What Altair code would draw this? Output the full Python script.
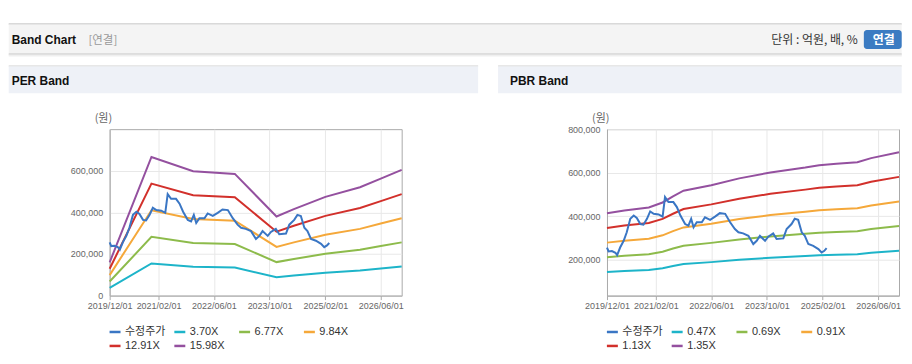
import altair as alt
import pandas as pd

# ---------------- data ----------------
series_price = "수정주가"

price_dates = [
    "2019-12-01", "2019-12-15", "2020-01-13", "2020-02-13", "2020-02-28", "2020-03-25",
    "2020-04-25", "2020-05-22", "2020-06-22", "2020-07-22", "2020-08-18", "2020-09-18",
    "2020-10-15", "2020-11-15", "2020-12-13", "2021-01-13", "2021-02-25", "2021-04-01",
    "2021-04-22", "2021-05-22", "2021-07-04", "2021-08-04", "2021-09-04", "2021-10-15",
    "2021-11-13", "2021-12-07", "2021-12-28", "2022-01-25", "2022-03-10", "2022-04-07",
    "2022-05-22", "2022-07-04", "2022-08-15", "2022-10-01", "2022-11-13", "2022-12-25",
    "2023-01-25", "2023-03-07", "2023-04-22", "2023-06-04", "2023-07-04", "2023-08-01",
    "2023-09-15", "2023-10-13", "2023-11-25", "2023-12-25", "2024-02-22", "2024-03-22",
    "2024-05-04", "2024-06-01", "2024-07-01", "2024-08-01", "2024-08-28", "2024-09-28",
    "2024-11-10", "2024-12-25", "2025-01-22", "2025-02-15", "2025-03-07",
]
price_values = [
    256000, 238000, 240000, 232000, 221000, 256000,
    287000, 326000, 388000, 403000, 392000, 364000,
    361000, 388000, 422000, 411000, 408000, 398000,
    488000, 465000, 465000, 442000, 403000, 364000,
    357000, 388000, 349000, 372000, 372000, 395000,
    383000, 398000, 414000, 411000, 372000, 341000,
    326000, 321000, 310000, 272000, 287000, 310000,
    287000, 306000, 321000, 295000, 298000, 341000,
    364000, 388000, 383000, 326000, 310000, 272000,
    264000, 249000, 233000, 241000, 253000,
]

per_names = ["3.70X", "6.77X", "9.84X", "12.91X", "15.98X"]
per_dates = ["2019-12-01", "2020-12-01", "2021-12-01", "2022-12-01", "2023-12-01",
             "2024-05-01", "2025-02-01", "2025-12-01", "2026-06-01", "2026-12-01"]
per_370 = [37000, 154300, 138400, 135400, 88100, 96200, 109900, 120600, 130200, 139900]
per_677 = [67700, 282300, 253200, 247800, 161100, 176000, 201100, 220700, 238300, 255900]
per_984 = [98400, 410300, 368000, 360100, 234200, 255800, 292200, 320800, 346400, 372000]
per_1291 = [129100, 538300, 482800, 472500, 307300, 335700, 383400, 420900, 454400, 488000]
per_1598 = [159800, 666400, 597700, 584900, 380300, 415500, 474600, 521000, 562500, 604000]

pbr_names = ["0.47X", "0.69X", "0.91X", "1.13X", "1.35X"]
pbr_dates = ["2019-12-01", "2020-05-01", "2020-12-01", "2021-04-01", "2021-07-01",
             "2021-10-01", "2022-06-01", "2023-02-01", "2023-11-01", "2024-09-01",
             "2025-01-01", "2025-06-01", "2025-12-01", "2026-04-01", "2026-12-01"]
pbr_047 = [143800, 148500, 153200, 161200, 171100, 180000, 188900, 199800, 209200, 217100,
           220900, 223300, 225600, 232200, 241600]
pbr_069 = [211100, 218000, 224900, 236700, 251200, 264300, 277400, 293300, 307100, 318800,
           324300, 327800, 331200, 340900, 354700]
pbr_091 = [278500, 287600, 296700, 312100, 331200, 348500, 365800, 386800, 405000, 420400,
           427700, 432300, 436800, 449500, 467700]
pbr_113 = [345800, 357100, 368400, 387600, 411300, 432800, 454300, 480300, 502900, 522100,
           531100, 536800, 542400, 558200, 580800]
pbr_135 = [413100, 426600, 440100, 463100, 491400, 517100, 542700, 573800, 600800, 623700,
           634500, 641300, 648000, 666900, 693900]

per_ticks = [0, 200000, 400000, 600000]
pbr_ticks = [200000, 400000, 600000, 800000]
x_tick_dates = [(2019, 12), (2021, 2), (2022, 6), (2023, 10), (2025, 2), (2026, 6)]

COLORS = ["#3a76c4", "#1db4c9", "#8dbb4b", "#f5a83a", "#d2302b", "#94509f"]

# ---------------- layout constants (page px) ----------------
PLOT_W, PLOT_H = 293, 167
LEFT_OX, RIGHT_OX, OY = 109.3, 608.3, 128
PAGE_R = 904
FONT = "Liberation Sans, Noto Sans CJK KR"
KFONT = "Noto Sans CJK KR"
DUMMY = alt.Data(values=[{}])


def rect(x1, x2, y1, y2, color, ox, **kw):
    return alt.Chart(DUMMY).mark_rect(color=color, **kw).encode(
        x=alt.value(x1 - ox), x2=alt.value(x2 - ox),
        y=alt.value(y1 - OY), y2=alt.value(y2 - OY))


def label(x, y, s, ox, **kw):
    return alt.Chart(DUMMY).mark_text(**kw).encode(
        x=alt.value(x - ox), y=alt.value(y - OY), text=alt.value(s))


def panel(title, names, dates, lists, y_domain, y_ticks, ox, x0, x1, header):
    rows = []
    for n, vals in zip(names, lists):
        for d, v in zip(dates, vals):
            rows.append({"date": d + "T00:00:00", "value": v, "series": n})
    band_df = pd.DataFrame(rows)
    price_df = pd.DataFrame({"date": [d + "T00:00:00" for d in price_dates],
                             "value": price_values, "series": series_price})
    order = [series_price] + names

    x = alt.X("date:T",
              scale=alt.Scale(domain=[alt.DateTime(year=2019, month=12, date=1),
                                      alt.DateTime(year=2026, month=12, date=1)]),
              axis=alt.Axis(values=[alt.DateTime(year=y, month=m, date=1) for y, m in x_tick_dates],
                            format="%Y/%m/%d", labelFlush=False, labelOverlap=False,
                            tickSize=4, labelPadding=2, grid=True),
              title=None)
    y = alt.Y("value:Q",
              scale=alt.Scale(domain=y_domain, nice=False, zero=False),
              axis=alt.Axis(values=y_ticks, format=",d", ticks=False, labelPadding=7, grid=True),
              title=None)
    color = alt.Color("series:N", scale=alt.Scale(domain=order, range=COLORS),
                      legend=alt.Legend(orient="none", legendX=-1.6, legendY=196.5, columns=4,
                                        direction="horizontal",
                                        title=None, symbolType="stroke", symbolSize=121,
                                        symbolStrokeWidth=2.5, labelFontSize=11, labelFont=FONT,
                                        labelColor="#333333", columnPadding=3, rowPadding=2,
                                        gridAlign="all", labelOffset=3, padding=0))

    layers = []
    if header:
        layers += [
            rect(8, PAGE_R, 8, 22, "#ffffff", ox),
            rect(8, PAGE_R, 22, 23, "#b3b3b3", ox),
            rect(8, PAGE_R, 23, 52, "#f4f4f4", ox),
            rect(8, PAGE_R, 52, 53, "#c2c2c2", ox),
            rect(8, PAGE_R, 53, 54, "#e0e0e0", ox),
            rect(8, PAGE_R, 54, 55, "#efefef", ox),
            label(11, 42.5, "Band Chart", ox, font="Liberation Sans", fontSize=12,
                  fontWeight="bold", align="left", baseline="alphabetic", color="#111111"),
            label(88, 42.5, "[연결]", ox, font=KFONT, fontSize=11.5, align="left",
                  baseline="alphabetic", color="#999999"),
            label(860, 42.5, "단위 : 억원, 배, %", ox, font=KFONT, fontSize=12, align="right",
                  baseline="alphabetic", color="#333333"),
            rect(866, PAGE_R, 28.5, 47.5, "#3b7bc2", ox, cornerRadius=3),
            label(886, 42.5, "연결", ox, font=KFONT, fontSize=12, fontWeight="bold",
                  align="center", baseline="alphabetic", color="#ffffff"),
        ]
    layers += [
        rect(x0, x1, 64, 65, "#d0d0d0", ox),
        rect(x0, x1, 65, 92, "#eef1f7", ox),
        label(x0 + 12 if x0 > 8 else 11, 84, title, ox, font="Liberation Sans", fontSize=12,
              fontWeight="bold", align="left", baseline="alphabetic", color="#111111"),
        label(ox - 6.3, 118, "(원)", ox, font=KFONT, fontSize=11, align="center",
              baseline="middle", color="#666666"),
        alt.Chart(band_df).mark_line(strokeWidth=2).encode(x=x, y=y, color=color),
        alt.Chart(price_df).mark_line(strokeWidth=2).encode(x=x, y=y, color=color),
    ]
    return alt.layer(*layers).properties(width=PLOT_W, height=PLOT_H)


left = panel("PER Band", per_names, per_dates, [per_370, per_677, per_984, per_1291, per_1598],
             [0, 800000], per_ticks, LEFT_OX, 8, 479, True)
right = panel("PBR Band", pbr_names, pbr_dates, [pbr_047, pbr_069, pbr_091, pbr_113, pbr_135],
              [35000, 800000], pbr_ticks, RIGHT_OX, 499, PAGE_R, False)

chart = alt.hconcat(left, right, spacing=RIGHT_OX - LEFT_OX - PLOT_W, bounds="flush").resolve_scale(
    color="independent", x="independent", y="independent"
).resolve_legend(color="independent").properties(padding=0).configure(
    background="white"
).configure_view(stroke="#aaaaaa", strokeWidth=1, fill="white").configure_axis(
    gridColor="#e8e8e8", domainColor="#aaaaaa", tickColor="#aaaaaa", labelColor="#666666",
    labelFont="Liberation Sans", labelFontSize=9
)

chart.save("out.html", embed_options={"renderer": "svg", "actions": False})
